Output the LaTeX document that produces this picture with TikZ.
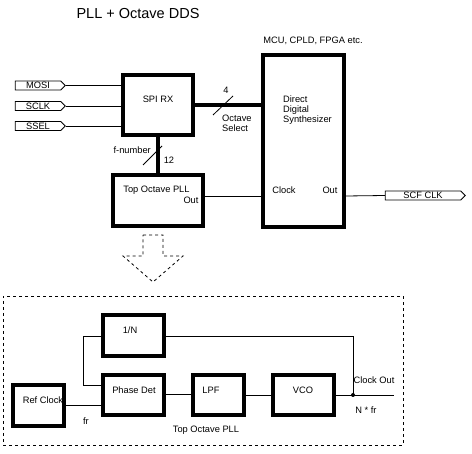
\documentclass[tikz,border=0pt]{standalone}
\usepackage{fontspec}
\setmainfont{Liberation Sans}
\usetikzlibrary{shapes.symbols}
\begin{document}
\begin{tikzpicture}[x=1pt,y=-1pt,
  thickbox/.style={draw,line width=3.5pt,inner sep=0pt},
  lbl/.style={inner sep=0pt,font=\fontsize{9.3}{10.5}\selectfont},
  tag/.style={draw,line width=0.8pt,signal,signal to=east,signal pointer angle=90,inner sep=0pt,minimum height=9pt,font=\fontsize{9.3}{10.5}\selectfont},
  wire/.style={line width=0.8pt},
  bus/.style={line width=3.5pt},
  slash/.style={line width=0.8pt},
  dsh/.style={line width=0.8pt,dash pattern=on 3pt off 3pt}]
\useasboundingbox (0,0) rectangle (472,454);
% title
\node[lbl,font=\fontsize{14.5}{16}\selectfont] (title) at (138,14) {PLL + Octave DDS};
% SPI RX
\node[thickbox,minimum width=70pt,minimum height=60pt] (spi) at (158,105) {};
\node[lbl] (spit) at (158,99) {SPI RX};
% tags
\node[tag,minimum width=50pt] (mosi) at (38,85.5) {MOSI};
\node[tag,minimum width=50pt] (sclk) at (38,106) {SCLK};
\node[tag,minimum width=50pt] (ssel) at (38,126) {SSEL};
\draw[wire] (mosi.east) -- (mosi.east -| spi.west);
\draw[wire] (sclk.east) -- (sclk.east -| spi.west);
\draw[wire] (ssel.east) -- (ssel.east -| spi.west);
% DDS
\node[thickbox,minimum width=81pt,minimum height=172pt] (dds) at (303.5,141) {};
\node[lbl] (mcu) at (313,41) {MCU, CPLD, FPGA etc.};
\node[lbl,anchor=west,align=left,font=\fontsize{9.3}{10}\selectfont] (ddst) at (283,110) {Direct\\Digital\\Synthesizer};
\node[lbl] (clk) at (284,190) {Clock};
\node[lbl] (ddsout) at (330,190) {Out};
% octave select bus
\coordinate (busa) at (spi.east |- 0,105);
\draw[bus] (busa) -- (busa -| dds.west);
\coordinate (s1) at (213,115);
\coordinate (s2) at (233,96);
\draw[slash] (s1) -- (s2);
\node[lbl] (four) at (226,90) {4};
\node[lbl,anchor=west,align=left,font=\fontsize{9.3}{10}\selectfont] (octsel) at (222,123) {Octave\\Select};
% Top Octave PLL
\node[thickbox,minimum width=90pt,minimum height=51pt] (top) at (158,200.5) {};
\node[lbl] (topt) at (156.5,190) {Top Octave PLL};
\node[lbl] (topout) at (191,200) {Out};
\draw[bus] (spi.south) -- (top.north);
\coordinate (f1) at (143,165);
\coordinate (f2) at (162,146);
\draw[slash] (f1) -- (f2);
\node[lbl,anchor=east] (fnum) at (151,150) {f-number};
\node[lbl] (twelve) at (169,160) {12};
\coordinate (topo) at (top.east |- 0,196);
\draw[wire] (topo) -- (topo -| dds.west);
% SCF CLK
\node[tag,minimum width=80pt] (scf) at (423,195.5) {SCF CLK};
\coordinate (ddso) at (dds.east |- 0,196);
\draw[wire] (ddso) -- (scf.west);
% dashed arrow
\coordinate (a1) at (143,235);
\coordinate (a2) at (163,235);
\coordinate (a3) at (163,256);
\coordinate (a4) at (183,256);
\coordinate (a5) at (153,282);
\coordinate (a6) at (123,256);
\coordinate (a7) at (143,256);
\draw[dsh] (a1) -- (a2) -- (a3) -- (a4) -- (a5) -- (a6) -- (a7) -- cycle;
% dashed frame
\node[draw,dsh,minimum width=400pt,minimum height=149pt,inner sep=0pt] (frame) at (203,370.5) {};
% PLL detail
\node[thickbox,minimum width=61pt,minimum height=41pt] (divn) at (133.5,335.5) {};
\node[lbl] (divnt) at (130,330) {1/N};
\node[thickbox,minimum width=61pt,minimum height=40pt] (pd) at (133.5,395) {};
\node[lbl] (pdt) at (134,390) {Phase Det};
\node[thickbox,minimum width=51pt,minimum height=40pt] (lpf) at (218.5,395) {};
\node[lbl] (lpft) at (211,390) {LPF};
\node[thickbox,minimum width=61pt,minimum height=40pt] (vco) at (303.5,395) {};
\node[lbl] (vcot) at (303,390) {VCO};
\node[thickbox,minimum width=51pt,minimum height=41pt] (ref) at (38.5,405.5) {};
\node[lbl] (reft) at (43,400) {Ref Clock};
\coordinate (refo) at (ref.east |- 0,405);
\draw[wire] (refo) -- (refo -| pd.west);
\node[lbl] (fr) at (86,421) {fr};
\coordinate (pdfb) at (pd.west |- 0,385);
\coordinate (fbl) at (83,385);
\coordinate (fbt) at (83,336);
\draw[wire] (pdfb) -- (fbl) -- (fbt) -- (fbt -| divn.west);
\coordinate (junc) at (353,395);
\coordinate (divo) at (divn.east |- 0,336);
\draw[wire] (divo) -- (junc |- divo) -- (junc);
\coordinate (outend) at (394,395);
\draw[wire] (pd.east |- 0,394) -- (lpf.west |- 0,394);
\draw[wire] (lpf.east |- 0,395) -- (vco.west |- 0,395);
\draw[wire] (vco.east |- 0,395) -- (outend);
\fill (junc) circle (2pt);
\node[lbl] (clkout) at (374,380) {Clock Out};
\node[lbl] (nfr) at (366,410) {N * fr};
\node[lbl] (topl) at (206,430) {Top Octave PLL};
\end{tikzpicture}
\end{document}
